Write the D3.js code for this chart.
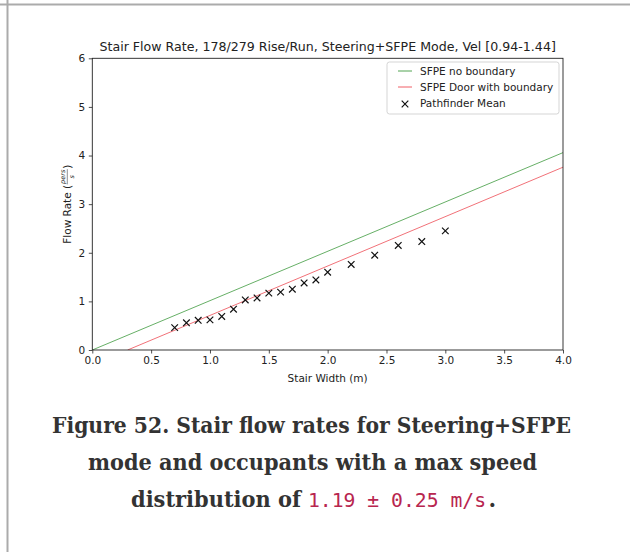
<!DOCTYPE html>
<html>
<head>
<meta charset="utf-8">
<script src="https://cdn.jsdelivr.net/npm/d3@7"></script>
<style>
  html, body { margin: 0; padding: 0; background: #fff; }
  svg { display: block; }
</style>
</head>
<body>
<svg id="chart" width="630" height="552"></svg>
<script>
// ---- data ----
const chartTitle = "Stair Flow Rate, 178/279 Rise/Run, Steering+SFPE Mode, Vel [0.94-1.44]";
const xTicks = [0.0, 0.5, 1.0, 1.5, 2.0, 2.5, 3.0, 3.5, 4.0];
const yTicks = [0, 1, 2, 3, 4, 5, 6];
const sfpeNoBoundaryX = [0.0, 4.0];
const sfpeNoBoundaryY = [0.0, 4.06];
const sfpeDoorX = [0.3, 4.0];
const sfpeDoorY = [0.0, 3.76];
const pathfinderWidth = [0.7, 0.8, 0.9, 1.0, 1.1, 1.2, 1.3, 1.4, 1.5, 1.6, 1.7, 1.8, 1.9, 2.0, 2.2, 2.4, 2.6, 2.8, 3.0];
const pathfinderFlow  = [0.46, 0.56, 0.61, 0.62, 0.69, 0.84, 1.03, 1.07, 1.17, 1.19, 1.25, 1.38, 1.44, 1.60, 1.76, 1.95, 2.15, 2.23, 2.45];
const legendLabels = ["SFPE no boundary", "SFPE Door with boundary", "Pathfinder Mean"];

const svg = d3.select("#chart");
const sans = "'DejaVu Sans', sans-serif";
const fs = 10.5;

// page frame lines
svg.append("line").attr("x1", 0).attr("x2", 630).attr("y1", 4.5).attr("y2", 4.5)
  .attr("stroke", "#ababab").attr("stroke-width", 2);
svg.append("line").attr("x1", 7.5).attr("x2", 7.5).attr("y1", 0).attr("y2", 552)
  .attr("stroke", "#ababab").attr("stroke-width", 2);

const L = 92.3, R = 563, T = 58.3, B = 350;
const x = d3.scaleLinear().domain([0, 4]).range([L, R]);
const y = d3.scaleLinear().domain([0, 6]).range([B, T]);

const defs = svg.append("defs");
defs.append("clipPath").attr("id", "clip").append("rect")
  .attr("x", L).attr("y", T).attr("width", R - L).attr("height", B - T);

// lines
const lineGen = d3.line().x(d => x(d[0])).y(d => y(d[1]));
const plot = svg.append("g").attr("clip-path", "url(#clip)");
plot.append("path").datum(d3.zip(sfpeNoBoundaryX, sfpeNoBoundaryY))
  .attr("d", lineGen).attr("fill", "none").attr("stroke", "#3f9a3f").attr("stroke-width", 0.8);
plot.append("path").datum(d3.zip(sfpeDoorX, sfpeDoorY))
  .attr("d", lineGen).attr("fill", "none").attr("stroke", "#ee4c55").attr("stroke-width", 0.8);

// markers
const m = 3.3;
const xMark = `M${-m},${-m}L${m},${m}M${-m},${m}L${m},${-m}`;
svg.append("g").selectAll("path").data(d3.zip(pathfinderWidth, pathfinderFlow)).join("path")
  .attr("transform", d => `translate(${x(d[0])},${y(d[1])})`)
  .attr("d", xMark).attr("stroke", "#111").attr("stroke-width", 1.2).attr("fill", "none");

// axes
const xAxis = svg.append("g").attr("transform", `translate(0,${B})`)
  .call(d3.axisBottom(x).tickValues(xTicks).tickFormat(d3.format(".1f")).tickSize(3.5).tickPadding(3.5));
const yAxis = svg.append("g").attr("transform", `translate(${L},0)`)
  .call(d3.axisLeft(y).tickValues(yTicks).tickFormat(d3.format("d")).tickSize(3.5).tickPadding(3.5));
[xAxis, yAxis].forEach(a => {
  a.select(".domain").remove();
  a.selectAll("text").attr("font-family", sans).attr("font-size", fs).attr("fill", "#222");
  a.selectAll("line").attr("stroke", "#222").attr("stroke-width", 0.8);
});
// spines
svg.append("rect").attr("x", L).attr("y", T).attr("width", R - L).attr("height", B - T)
  .attr("fill", "none").attr("stroke", "#222").attr("stroke-width", 0.9);

// title
svg.append("text").attr("x", (L + R) / 2).attr("y", 51).attr("text-anchor", "middle")
  .attr("font-family", sans).attr("font-size", 12.6).attr("fill", "#222").text(chartTitle);

// x label
svg.append("text").attr("x", (L + R) / 2).attr("y", 382).attr("text-anchor", "middle")
  .attr("font-family", sans).attr("font-size", fs).attr("fill", "#222").text("Stair Width (m)");

// y label with fraction
const yl = svg.append("g").attr("transform", `translate(71,${(T + B) / 2}) rotate(-90)`);
const inner = yl.append("g");
const t1 = inner.append("text").attr("font-family", sans).attr("font-size", fs).attr("fill", "#222").text("Flow Rate (");
const w1 = t1.node().getComputedTextLength();
const num = inner.append("text").attr("font-family", sans).attr("font-size", 6.5).attr("fill", "#222").attr("font-style", "italic").text("pers");
const nw = num.node().getComputedTextLength();
const fracW = nw + 1;
num.attr("x", w1 + 0.5 + fracW / 2).attr("y", -5.6).attr("text-anchor", "middle");
inner.append("line").attr("x1", w1 + 0.5).attr("x2", w1 + 0.5 + fracW).attr("y1", -3.7).attr("y2", -3.7)
  .attr("stroke", "#222").attr("stroke-width", 0.5);
inner.append("text").attr("x", w1 + 0.5 + fracW / 2).attr("y", 2.8).attr("text-anchor", "middle")
  .attr("font-family", sans).attr("font-size", 6.5).attr("font-style", "italic").attr("fill", "#222").text("s");
const t2 = inner.append("text").attr("x", w1 + fracW + 1).attr("font-family", sans).attr("font-size", fs).attr("fill", "#222").text(")");
const totalW = w1 + fracW + 1 + t2.node().getComputedTextLength();
inner.attr("transform", `translate(${-totalW / 2},0)`);

// legend
const lg = svg.append("g");
lg.append("rect").attr("x", 387).attr("y", 62).attr("width", 172).attr("height", 52).attr("rx", 2.5)
  .attr("fill", "#fff").attr("stroke", "#d0d0d0").attr("stroke-width", 0.9);
const legendColors = ["#3f9a3f", "#ee4c55", null];
legendLabels.forEach((lab, i) => {
  const cy = 71 + i * 16;
  if (legendColors[i]) {
    lg.append("line").attr("x1", 398).attr("x2", 412).attr("y1", cy).attr("y2", cy)
      .attr("stroke", legendColors[i]).attr("stroke-width", 0.9);
  } else {
    lg.append("path").attr("transform", `translate(405,${cy + 1})`).attr("d", xMark)
      .attr("stroke", "#111").attr("stroke-width", 1.2).attr("fill", "none");
  }
  lg.append("text").attr("x", 420).attr("y", cy + 3.8).attr("font-family", sans).attr("font-size", fs)
    .attr("fill", "#222").text(lab);
});

// caption
const serif = "'DejaVu Serif', 'Liberation Serif', serif";
const mono = "'DejaVu Sans Mono', 'Liberation Mono', monospace";
function fitText(txt, xStart, xEnd, yb, font, size, weight, color) {
  return svg.append("text").attr("x", xStart).attr("y", yb).attr("font-family", font)
    .attr("font-size", size).attr("font-weight", weight).attr("fill", color).text(txt)
    .attr("textLength", xEnd - xStart).attr("lengthAdjust", "spacingAndGlyphs");
}
fitText("Figure 52. Stair flow rates for Steering+SFPE", 52, 571, 433, serif, 22, "bold", "#333");
fitText("mode and occupants with a max speed", 88, 537, 470, serif, 22, "bold", "#333");
const line3 = svg.append("text").attr("y", 507).attr("font-size", 22);
line3.append("tspan").attr("x", 131).attr("font-family", serif).attr("font-weight", "bold").attr("fill", "#333")
  .attr("textLength", 170).attr("lengthAdjust", "spacingAndGlyphs").text("distribution of");
line3.append("tspan").attr("x", 308).attr("font-family", mono).attr("font-size", 19.7).attr("font-weight", "normal").attr("fill", "#b8264f")
  .attr("textLength", 178).attr("lengthAdjust", "spacingAndGlyphs").text("1.19 \u00b1 0.25 m/s");
line3.append("tspan").attr("x", 488.5).attr("font-family", serif).attr("font-weight", "bold").attr("fill", "#333")
  .text(".");
</script>
</body>
</html>
